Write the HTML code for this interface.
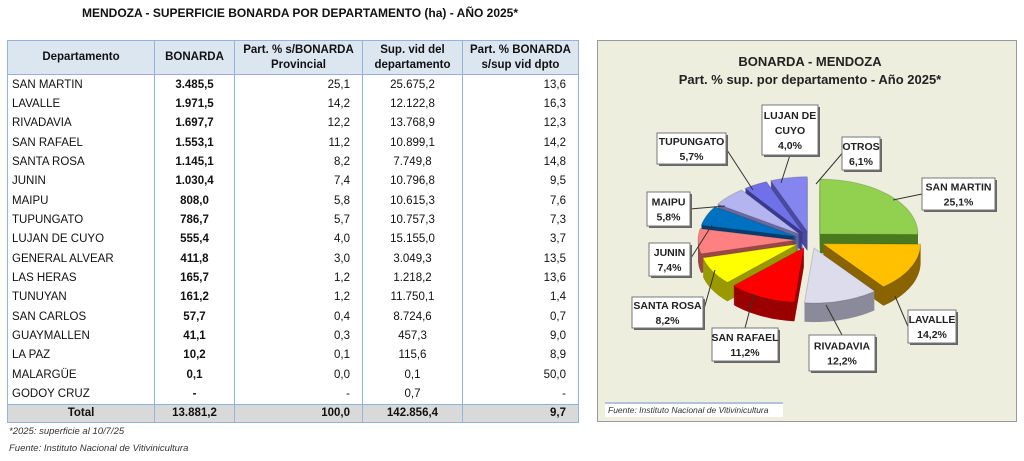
<!DOCTYPE html>
<html><head><meta charset="utf-8"><style>
body{margin:0;width:1024px;height:461px;background:#fff;font-family:"Liberation Sans",sans-serif;position:relative;overflow:hidden}
#title{position:absolute;left:10px;top:6px;width:580px;text-align:center;font-weight:bold;font-size:12px;color:#111}
table{position:absolute;left:7px;top:40px;border-collapse:collapse;font-size:11.5px;color:#111}
td,th{padding:0 4px;height:19.35px;border-left:1px solid #95b3d7;border-right:1px solid #95b3d7;white-space:nowrap;line-height:14px}
th{background:#dce6f1;height:33px;font-size:11.5px;border:1px solid #95b3d7;line-height:15px}
td.r{text-align:right;padding-right:12px}td.c{text-align:center}td.b{font-weight:bold}
tr.tot td{background:#d9d9d9;font-weight:bold;border-top:1px solid #95b3d7;border-bottom:1px solid #95b3d7;height:17px}
.note{position:absolute;left:9px;font-size:9.5px;font-style:italic;color:#333}
</style></head><body>
<div id="title">MENDOZA - SUPERFICIE BONARDA POR DEPARTAMENTO (ha) - AÑO 2025*</div>
<table>
<colgroup><col style="width:147px"><col style="width:80px"><col style="width:128px"><col style="width:100px"><col style="width:116px"></colgroup>
<thead><tr><th>Departamento</th><th>BONARDA</th><th>Part. % s/BONARDA<br>Provincial</th><th>Sup. vid del<br>departamento</th><th>Part. % BONARDA<br>s/sup vid dpto</th></tr></thead>
<tbody id="tb"></tbody></table>
<div class="note" style="top:426px">*2025: superficie al 10/7/25</div>
<div class="note" style="top:443px">Fuente: Instituto Nacional de Vitivinicultura</div>

<svg style="position:absolute;left:0;top:0" width="1024" height="461">
<rect x="597.5" y="40.5" width="419" height="381" fill="#eeeedf" stroke="#9a9a9a"/>
<text x="810" y="66" text-anchor="middle" font-weight="bold" font-size="13" fill="#222">BONARDA - MENDOZA</text>
<text x="810" y="84" text-anchor="middle" font-weight="bold" font-size="13" fill="#222">Part. % sup. por departamento - Año 2025*</text>
<g id="pie"></g><g id="labels"></g>
<line x1="605" y1="403" x2="783" y2="403" stroke="#9ab6d6" stroke-width="1.5"/>
<rect x="605" y="404" width="178" height="13" fill="#fff"/>
<text x="608" y="413" font-size="8.5" font-style="italic" fill="#333">Fuente: Instituto Nacional de Vitivinicultura</text>
</svg>
<script>
const depts=["SAN MARTIN","LAVALLE","RIVADAVIA","SAN RAFAEL","SANTA ROSA","JUNIN","MAIPU","TUPUNGATO","LUJAN DE CUYO","GENERAL ALVEAR","LAS HERAS","TUNUYAN","SAN CARLOS","GUAYMALLEN","LA PAZ","MALARGÜE","GODOY CRUZ"];
const bonarda=["3.485,5","1.971,5","1.697,7","1.553,1","1.145,1","1.030,4","808,0","786,7","555,4","411,8","165,7","161,2","57,7","41,1","10,2","0,1","-"];
const partProv=["25,1","14,2","12,2","11,2","8,2","7,4","5,8","5,7","4,0","3,0","1,2","1,2","0,4","0,3","0,1","0,0","-"];
const supVid=["25.675,2","12.122,8","13.768,9","10.899,1","7.749,8","10.796,8","10.615,3","10.757,3","15.155,0","3.049,3","1.218,2","11.750,1","8.724,6","457,3","115,6","0,1","0,7"];
const partDpto=["13,6","16,3","12,3","14,2","14,8","9,5","7,6","7,3","3,7","13,5","13,6","1,4","0,7","9,0","8,9","50,0","-"];
const total=["Total","13.881,2","100,0","142.856,4","9,7"];
const sliceNames=["SAN MARTIN","LAVALLE","RIVADAVIA","SAN RAFAEL","SANTA ROSA","JUNIN","MAIPU","TUPUNGATO","LUJAN DE CUYO","OTROS"];
const sliceValues=[25.1,14.2,12.2,11.2,8.2,7.4,5.8,5.7,4.0,6.1];
const sliceLabels=["25,1%","14,2%","12,2%","11,2%","8,2%","7,4%","5,8%","5,7%","4,0%","6,1%"];
const colors=["#92d050","#ffc000","#dcdcec","#ff0000","#ffff00","#ff8080","#0070c0","#b4b4f0","#7070e8","#8585f0"];
const dark=["#4a7a1e","#8a6400","#8a8a9a","#9a0000","#9a9a00","#9a4848","#003e70","#6a6aa0","#3a3a90","#4a4aa0"];

const tb=document.getElementById('tb');
depts.forEach((d,i)=>{
  const tr=document.createElement('tr');
  
  
  tr.innerHTML=`<td>${d}</td><td class="b c">${bonarda[i]}</td><td class="r">${partProv[i]}</td><td class="c">${supVid[i]}</td><td class="r">${partDpto[i]}</td>`;
  tb.appendChild(tr);
});
const tt=document.createElement('tr');tt.className='tot';


tt.innerHTML=`<td class="c">${total[0]}</td><td class="c">${total[1]}</td><td class="r">${total[2]}</td><td class="c">${total[3]}</td><td class="r">${total[4]}</td>`;
tb.appendChild(tt);

const NS="http://www.w3.org/2000/svg";
const cx=810,cy=240,rx=98,ry=55,depth=19,expl=14;
const sum=sliceValues.reduce((a,b)=>a+b,0);
function pt(a,r){return [Math.sin(a)*rx*r,-Math.cos(a)*ry*r];}
function slicePath(a0,a1,ox,oy){
  let d=`M${ox},${oy}`;const n=24;
  for(let k=0;k<=n;k++){const a=a0+(a1-a0)*k/n;const p=pt(a,1);d+=`L${(ox+p[0]).toFixed(1)},${(oy+p[1]).toFixed(1)}`;}
  return d+'Z';
}
const slices=[];let acc=0;
sliceValues.forEach((v,i)=>{const a0=acc/sum*2*Math.PI;acc+=v;const a1=acc/sum*2*Math.PI;slices.push({i,a0,a1,m:(a0+a1)/2});});
const pie=document.getElementById('pie');
slices.slice().sort((a,b)=>(-Math.cos(a.m))-(-Math.cos(b.m))).forEach(s=>{
  const e=pt(s.m,1);const ox=cx+e[0]/rx*expl,oy=cy+e[1]/ry*expl*0.6;
  const g=document.createElementNS(NS,'g');
  
  
  for(let k=depth;k>=1;k-=1){const p=document.createElementNS(NS,'path');p.setAttribute('d',slicePath(s.a0,s.a1,ox,oy+k));p.setAttribute('fill',dark[s.i]);g.appendChild(p);}
  const top=document.createElementNS(NS,'path');top.setAttribute('d',slicePath(s.a0,s.a1,ox,oy));top.setAttribute('fill',colors[s.i]);top.setAttribute('stroke','rgba(0,0,0,0.15)');g.appendChild(top);
  pie.appendChild(g);
});
const boxes=[[922,178,73,32,893,200],[908,310,48,33,895,296],[809,335,66,36,826,305],[712,328,66,33,754,294],[632,297,71,31,715,270],[649,243,41,33,712,225],[647,192,43,34,725,206],[657,133,69,31,753,190],[762,105,56,50,781,183],[842,137,38,33,816,184]];
const lab=document.getElementById('labels');
boxes.forEach((b,i)=>{
  const g=document.createElementNS(NS,'g');
  
  
  const bx=b[0]+b[2]/2,by=b[1]+b[3]/2;
  let lx,ly;
  if(b[4]>=b[0]&&b[4]<=b[0]+b[2]){lx=bx;ly=b[5]<b[1]?b[1]:b[1]+b[3];}
  else {ly=by; lx=b[4]<b[0]?b[0]:b[0]+b[2];}
  g.innerHTML=`<line x1="${lx}" y1="${ly}" x2="${b[4]}" y2="${b[5]}" stroke="#333"/><rect x="${b[0]+2}" y="${b[1]+2}" width="${b[2]}" height="${b[3]}" fill="#666"/><rect x="${b[0]}" y="${b[1]}" width="${b[2]}" height="${b[3]}" fill="#fff" stroke="#777"/>`;
  const nm=sliceNames[i]==="LUJAN DE CUYO"?["LUJAN DE","CUYO"]:[sliceNames[i]];
  const lines=nm.concat([sliceLabels[i]]);
  lines.forEach((t,k)=>{const tx=document.createElementNS(NS,'text');tx.setAttribute('x',bx);tx.setAttribute('y',by-(lines.length-1)*7.5+k*15+4);tx.setAttribute('text-anchor','middle');tx.setAttribute('font-size','10.5');tx.setAttribute('font-weight','bold');tx.setAttribute('fill','#222');tx.textContent=t;g.appendChild(tx);});
  lab.appendChild(g);
});
</script>
</body></html>
